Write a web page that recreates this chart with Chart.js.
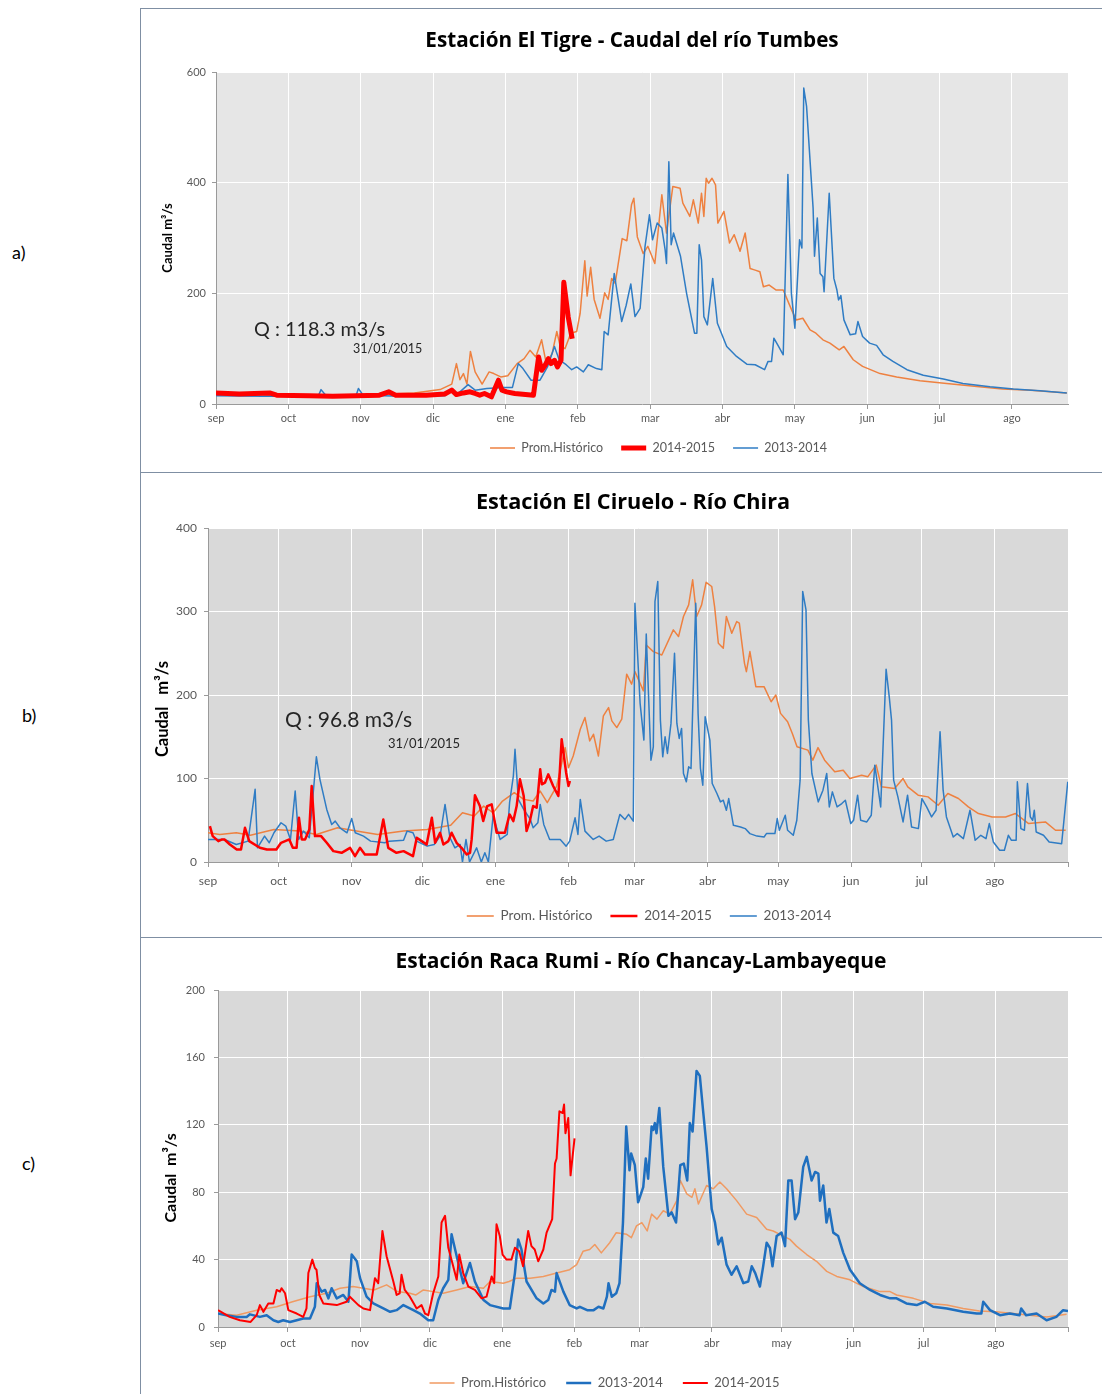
<!DOCTYPE html>
<html lang="es">
<head>
<meta charset="utf-8">
<title>Caudales</title>
<script src="https://cdn.jsdelivr.net/npm/chart.js@4.4.1/dist/chart.umd.min.js"></script>
<style>
  body { margin: 0; background: #fff; }
  #hoja { position: relative; width: 1102px; height: 1394px; overflow: hidden; font-family: Lato, "Open Sans", sans-serif; }
  .linea { position: absolute; background: #7f8fa3; }
  .letra { position: absolute; font-size: 18px; line-height: 18px; color: #000; }
  canvas { position: absolute; left: 141px; }
</style>
</head>
<body>
<div id="hoja">
  <div class="linea" style="left:140px;top:8px;width:962px;height:1px"></div>
  <div class="linea" style="left:140px;top:8px;width:1px;height:1386px"></div>
  <div class="linea" style="left:140px;top:472px;width:962px;height:1px"></div>
  <div class="linea" style="left:140px;top:937px;width:962px;height:1px"></div>
  <div class="letra" style="left:12px;top:243px">a)</div>
  <div class="letra" style="left:22px;top:706px">b)</div>
  <div class="letra" style="left:22px;top:1154px">c)</div>
  <canvas id="tigre" width="961" height="463" style="top:9px"></canvas>
  <canvas id="ciruelo" width="961" height="464" style="top:473px"></canvas>
  <canvas id="raca" width="961" height="462" style="top:938px"></canvas>
</div>
<script>
// dias contados desde el 1 de setiembre, caudal en m3/s
const meses = ['sep', 'oct', 'nov', 'dic', 'ene', 'feb', 'mar', 'abr', 'may', 'jun', 'jul', 'ago'];
const marcasTigre = [0, 31, 62, 93, 124, 155, 186, 217, 248, 279, 310, 341];
const marcasMes = [0, 30, 61, 91, 122, 153, 181, 212, 242, 273, 303, 334, 365];

// ---- Estacion El Tigre ----
const tigreHist = [[0,20],[12,18],[25,16],[40,15],[55,16],[70,17],[85,20],[96,26],[101,36],[103,73],[104.5,44],[106,55],[107.5,36],[109,95],[111,58],[114,36],[117,58],[119,55],[122,49],[125,51],[129,73],[132,82],[134.5,97],[137,85],[139.5,116],[141.5,73],[144,91],[146,131],[147.5,104],[149.5,100],[152,128],[154.5,131],[156,164],[158,259],[159,195],[160.5,247],[162,189],[164.5,155],[166.5,201],[168,189],[169.5,227],[171,218],[174,299],[176,295],[178,360],[179,372],[180.5,302],[183,272],[185,285],[188,254],[191,378],[193,309],[195.7,393],[198.8,390],[200,363],[203,339],[204.5,369],[206.6,327],[208,381],[209,339],[210,408],[211,399],[212.5,408],[214,396],[215,327],[217.6,348],[220,291],[222,306],[224.5,276],[226.7,309],[228.8,245],[231,242],[233,239],[234.5,212],[237,215],[240,206],[243,206],[246,176],[248.5,152],[251.4,155],[254.5,134],[257,128],[260,116],[263,110],[267,98],[269,104],[273,80],[277,68],[284.5,55],[291.6,49],[301.6,42],[313,37],[327,31],[337,27],[349,25],[364.5,20]];
const tigre1415 = [[0,20],[10,18],[23,20],[26,16],[40,15],[50,14],[60,15],[70,16],[74,22],[77,16],[90,16],[98,18],[101,25],[103,17],[106,20],[108.8,22],[111,19],[113,16],[115,19],[118,13],[121,43],[122.5,25],[124.5,22],[128,19],[136,16],[138.2,85],[139.5,61],[141,70],[142.4,82],[143.5,73],[145,79],[146.3,67],[147.8,79],[149,220],[150.9,157],[152.6,118]];
const tigre1314 = [[0,15],[20,14],[40,14],[44,16],[45,26],[47,16],[60,15],[61,28],[63,16],[80,14],[98,15],[100,22],[104,20],[108,35],[111,25],[116,28],[123,30],[127,30],[129.5,73],[131.5,64],[135,43],[138.8,43],[142,67],[145,104],[147,80],[150,71],[152.4,62],[154.5,67],[157.4,58],[159.5,71],[163,64],[165.3,62],[166.3,131],[168,125],[170.6,236],[173.8,149],[175.7,178],[177.7,217],[179.5,158],[181.7,173],[183.8,285],[185.7,342],[187,297],[189,327],[191,318],[192.4,279],[193,254],[194,438],[195,288],[196,309],[199,267],[201.6,200],[205,128],[206,128],[207,288],[208,260],[209,158],[210.5,143],[212.8,227],[214.8,146],[218.8,104],[223,86],[227.4,72],[231,71],[235,62],[236.5,77],[238,77],[239,119],[241,104],[243,89],[245,415],[246.5,200],[248,137],[250,297],[251,282],[251.8,571],[253,538],[255.8,354],[256.4,267],[257.6,336],[258.8,236],[260,230],[260.5,203],[262.7,381],[264.7,227],[266,206],[266.7,188],[267.7,196],[269,152],[271.7,125],[274,127],[275,149],[277,122],[280,110],[283,106],[285.8,89],[290,77],[296,62],[303,52],[311.6,45],[320,37],[331.6,31],[341.6,27],[353,24],[364.5,20]];

// ---- Estacion El Ciruelo ----
const ciruHist = [[0,35],[5,33],[12,35],[18,32],[28,39],[39,37],[46,33],[55,41],[63,37],[72,33],[83,37],[93,39],[103,44],[108,59],[113,55],[117,67],[121,59],[125,73],[130,83],[134,75],[138,73],[141,85],[144,71],[148,91],[151.6,137],[153,113],[155,127],[158,159],[160,173],[162,145],[163.6,153],[165.7,127],[167.8,175],[170,185],[171.4,169],[173.5,161],[175.6,171],[177.7,225],[179.8,213],[181.2,228],[184.8,205],[186,260],[189,252],[192.6,248],[197.5,278],[199.7,270],[201.8,294],[204,308],[205.7,338],[207.4,294],[209.5,308],[211.4,335],[213.8,330],[215,306],[216.6,262],[218.7,256],[220,294],[222.3,274],[224.4,288],[225.5,286],[227.7,238],[228.5,228],[230,252],[232.5,210],[236,210],[239,192],[241,200],[243,178],[246,168],[248,154],[250,138],[254.6,134],[256.7,122],[258.9,137],[261.7,122],[266,108],[269.6,110],[272.4,100],[277.4,104],[280,102],[283.6,116],[285.8,90],[291.4,88],[295,100],[297,90],[301.4,80],[305.6,78],[309.9,68],[314,82],[318.5,76],[322.7,66],[327,58],[332.8,54],[338.5,54],[342.7,58],[348.3,46],[355.4,48],[359.7,38],[364,38]];
const ciru1415 = [[0.8,43],[2,31],[4.4,25],[6,27],[7,27],[9.3,21],[12.2,15],[14,15],[15.7,41],[17.5,25],[22,17],[25,15],[29,15],[31,23],[34.5,27],[36,17],[37.6,17],[38.6,53],[39.8,27],[41.2,27],[43,39],[44,91],[45.4,31],[48,31],[50.4,23],[53.2,13],[56.7,11],[60.3,17],[62.4,7],[64.5,17],[66.6,9],[71.6,9],[74.4,51],[76.5,17],[80,11],[83,13],[87,7],[88.6,29],[90.7,25],[92.8,21],[95,53],[96.4,23],[98.5,35],[99.9,21],[102,25],[103.4,35],[105.5,23],[107.6,17],[109.8,9],[111.2,11],[111.9,27],[113.3,80],[115.4,67],[116.8,49],[118.5,67],[120.4,69],[122.5,35],[126,35],[128,57],[129.6,49],[131,67],[132.4,99],[134,79],[135.2,37],[136.6,49],[138,67],[139.5,65],[141,111],[141.7,93],[143,95],[144.4,105],[146.5,91],[148.7,79],[150.1,147],[152,107],[153,91],[153.6,97]];
const ciru1314 = [[0,27],[7,27],[12,21],[17,25],[20,87],[21,17],[24,31],[26,23],[28,35],[31,47],[33,43],[35,27],[37,85],[38.5,27],[40.5,37],[43,29],[46,126],[47.5,99],[50.4,63],[52.5,45],[54,49],[56,41],[59,35],[61,52],[62.5,35],[66,31],[69,25],[75,23],[77,25],[83,26],[84.5,37],[87,35],[88.5,25],[93,19],[96,21],[98.5,31],[100.6,69],[102.7,29],[104.8,17],[107,21],[108,0],[109.5,27],[111,0],[114,17],[116,0],[117.5,11],[119,0],[121,55],[124,27],[127,33],[128,71],[129.6,103],[130.3,135],[131.7,75],[134,63],[136.8,51],[138,41],[140,47],[141,69],[142.5,45],[145,27],[149.5,27],[152,19],[153.5,25],[155.8,53],[157,33],[158,75],[160,37],[163.5,27],[166,31],[169,25],[172,27],[174.8,57],[177,51],[178.5,57],[180.5,49],[181.2,310],[183.4,190],[185,146],[186,273],[188,122],[189,138],[189.7,312],[190.9,336],[192,170],[193,126],[194,150],[195,130],[196.5,166],[198,250],[199,166],[200,148],[201,160],[201.8,106],[203,96],[204,114],[205,112],[207,310],[208,178],[209,112],[210,92],[211,174],[213,146],[214,94],[216,82],[217.5,72],[218.7,74],[220,62],[221,76],[223,44],[226,42],[228,40],[230,34],[233,31],[236,30],[237,34],[240.6,34],[241.6,52],[242.5,38],[245,56],[246,38],[248.4,32],[249.9,50],[251.3,98],[252.4,324],[253.8,302],[254.8,170],[256.3,106],[259,72],[261,86],[262.6,106],[263.7,66],[265,84],[267,66],[269,70],[270.5,74],[272.8,46],[274,50],[275.7,80],[277,50],[279.6,48],[281.5,56],[283,116],[285.5,66],[287.8,231],[289.2,196],[290.1,170],[291,98],[292.8,78],[295,48],[296.9,80],[298.6,42],[301.5,40],[303,76],[305,66],[307.1,54],[309,62],[310.7,156],[312,86],[313.4,54],[316.3,30],[318,34],[320.6,28],[323.4,62],[325.6,26],[328,32],[330.2,28],[331.6,46],[333.3,24],[336,14],[338,14],[339.7,32],[341,26],[343,26],[343.5,96],[345,40],[346.5,38],[347.8,94],[349,54],[350,50],[350.7,62],[351.5,36],[354.6,32],[357,24],[362.3,22],[364.9,96]];

// ---- Estacion Raca Rumi ----
const racaHist = [[0,8],[8,7],[16.6,10],[25.2,12],[32,15],[39.5,18],[46.6,20],[52.4,23],[58,24],[62.4,23],[67,22],[72.4,25],[77,21],[82.4,20],[85,19],[88.2,22],[92.4,21],[96.7,20],[102.5,22],[108.2,24],[114,23],[116.8,27],[122.5,26],[125,27],[128.2,29],[134,29],[139.7,30],[145.4,32],[151,34],[154,37],[156.8,45],[159.6,46],[161.8,49],[164.6,44],[168.2,50],[171,56],[175.5,55],[177.5,53],[179.7,60],[182,62],[184.3,57],[186.2,67],[188.5,64],[191.2,69],[194,67],[197,75],[198.5,87],[201.3,79],[203.5,77],[204.8,82],[206.3,73],[209.8,84],[212.7,82],[215.5,86],[218.4,82],[222.7,75],[227,67],[231.3,65],[235.6,58],[238.4,57],[241.3,55],[245.6,52],[248.4,48],[252.8,43],[257,39],[261.4,33],[265.7,30],[271.4,28],[277.1,24],[284.3,21],[288.6,21],[291.4,19],[298.6,17],[305.8,14],[313,13],[320,11],[327,9.5],[334,9],[341.5,8],[348.6,7],[355.8,6],[364.4,7.5]];
const raca1314 = [[0,8],[3.6,7],[8,6],[12.3,6],[13.7,7.5],[18,6],[20.9,7],[23.8,4],[25.9,3],[28,4],[30.9,3],[33.8,4],[36.6,5],[39.5,5],[41.6,12],[42.4,26],[44.5,21],[46,22],[47.4,17],[48.8,23],[51,17],[53.8,19],[56,15],[57.4,43],[59.6,39],[61,29],[63.8,18],[66.7,14],[71,11],[73.9,9],[76.7,10],[79.6,13],[83.9,10],[86.7,8],[90.3,4],[92.4,4],[94.6,16],[96.7,23],[98.9,28],[100.3,55],[102.5,42],[105.3,26],[108.2,38],[110.3,27],[114,16],[116.8,13],[122.5,11],[125.3,11],[127.5,32],[128.9,52],[130.3,46],[132.5,27],[136.8,17],[139.7,14],[141.8,16],[143.2,22],[144.7,21],[145.4,32],[148.3,21],[151,13],[154,11],[155.4,12],[158.5,10],[161.3,10],[163.4,12],[165.5,11],[167,18],[167.7,26],[169.1,18],[171,20],[172.4,26],[173.9,62],[175.3,119],[176.7,93],[177.4,103],[179,96],[180.4,74],[182.6,83],[183.7,100],[184.7,88],[186.2,119],[186.9,117],[187.6,121],[188.3,115],[189.5,130],[191.2,95],[193.4,66],[194.8,68],[196.7,62],[198.5,96],[200,97],[201.5,87],[202.6,121],[203.8,116],[205.5,152],[206.9,149],[208.4,127],[209.8,107],[212,70],[213.4,62],[214.8,49],[216.3,53],[218.4,37],[220.5,31],[222.7,36],[225.6,26],[227.7,27],[229.2,36],[230.7,32],[232.7,24],[234.1,36],[235.6,50],[237,47],[238.1,36],[239.9,54],[242,56],[243.5,48],[244.9,87],[246.3,87],[247.8,64],[249.2,68],[251.3,95],[252.8,101],[254.9,87],[256.4,92],[257.8,91],[258.5,75],[259.9,84],[261.3,62],[262.5,70],[264.2,56],[266.3,54],[268.5,44],[271.4,34],[275.6,26],[280,22],[284.3,19],[288.6,17],[291.4,17],[295.6,14],[300,13],[303.5,15],[307.1,12],[313,11],[320,9],[325.8,8],[327.8,8],[328.6,15],[331.5,10],[335.8,7],[340,8],[344.2,7],[344.9,11],[347,7],[351.5,8],[355.8,4],[360,6],[362.9,10],[365,9.5]];
const raca1415 = [[0,10],[5,6],[9.4,4],[14,3],[16.6,7],[18,13],[19.5,9],[21.6,14],[23.8,14],[25.2,22],[26.6,21],[27.3,23],[28.8,20],[30.2,10],[33.8,8],[36.6,6],[38,11],[38.8,32],[40.5,40],[41.6,35],[42.3,34],[43.5,19],[45.2,14],[51,13],[55.2,15],[56.6,18],[60.3,13],[62.4,11],[65.3,10],[67.4,29],[68.8,26],[70.6,57],[72.4,42],[75.3,27],[76.7,19],[78,20],[78.8,31],[80.2,22],[82.4,18],[85.3,11],[87.4,13],[88.9,8],[90.3,7],[92.4,20],[94.6,30],[96,62],[97.5,66],[98.9,47],[101,36],[102.5,28],[103.6,43],[105.3,32],[107.5,24],[110.3,22],[113.2,17],[115.3,18],[117.5,30],[118.6,26],[119.6,61],[121,54],[122.2,43],[123.9,40],[126,40],[127.5,47],[129.3,45],[131,36],[133.2,57],[134.6,48],[136,46],[137.5,39],[139.7,46],[141.1,56],[143.5,64],[144.7,97],[145.4,100],[146.6,128],[148,127],[148.6,132],[149.2,115],[150.4,124],[151.4,90],[153.1,112]];

const naranja = '#EE8140';
const azul = '#2F7CC4';
const rojo = '#FF0000';
const gris = '#9a9a9a';
const textoEje = '#595959';

Chart.defaults.font.family = 'Lato, "Open Sans", sans-serif';
Chart.defaults.animation = false;

const puntos = arr => arr.map(([x, y]) => ({x: x, y: y}));

// fondo gris del area de trazado
const fondoPlugin = {
  id: 'fondo',
  beforeDraw(chart, args, opts) {
    const a = chart.chartArea;
    chart.ctx.save();
    chart.ctx.fillStyle = opts.color;
    chart.ctx.fillRect(a.left, a.top, a.right - a.left, a.bottom - a.top);
    chart.ctx.restore();
  }
};

// titulo y leyenda de Excel no estan centrados en el lienzo
const desplazarPlugin = {
  id: 'desplazar',
  afterLayout(chart, args, opts) {
    if (chart.titleBlock) { chart.titleBlock.left += opts.titulo; chart.titleBlock.right += opts.titulo; }
    if (chart.legend) { chart.legend.left += opts.leyenda; chart.legend.right += opts.leyenda; }
  }
};

// textos del caudal al 31/01/2015
const notasPlugin = {
  id: 'notas',
  afterDatasetsDraw(chart, args, opts) {
    const ctx = chart.ctx;
    const x = chart.scales.x, y = chart.scales.y;
    opts.items.forEach(n => {
      ctx.save();
      ctx.font = n.size + 'px Lato, "Open Sans", sans-serif';
      ctx.fillStyle = '#262626';
      ctx.textBaseline = 'middle';
      ctx.fillText(n.text, x.getPixelForValue(n.dia), y.getPixelForValue(n.valor));
      ctx.restore();
    });
  }
};

function serie(label, datos, color, ancho, orden) {
  return {
    label: label, data: puntos(datos), borderColor: color, backgroundColor: color,
    borderWidth: ancho, pointRadius: 0, tension: 0, order: orden,
    borderJoinStyle: 'round', pointStyle: 'line'
  };
}

function dibujarPanel(id, p) {
  new Chart(document.getElementById(id), {
    type: 'line',
    data: { datasets: p.series },
    options: {
      responsive: false,
      layout: { padding: { left: 0, right: 34, top: 0, bottom: p.abajo } },
      plugins: {
        title: {
          display: true, text: p.titulo, color: '#000',
          font: { family: '"Open Sans", Lato, sans-serif', size: p.tamTitulo, weight: 'bold' },
          padding: { top: p.titSup, bottom: p.titInf }
        },
        legend: {
          position: 'bottom',
          labels: {
            usePointStyle: true, pointStyleWidth: p.largoLinea, color: textoEje,
            font: { size: p.tamLeyenda }, padding: p.padLeyenda,
            sort: (a, b) => a.datasetIndex - b.datasetIndex
          }
        },
        tooltip: { enabled: false },
        fondo: { color: p.fondo },
        desplazar: { titulo: p.dxTitulo, leyenda: p.dxLeyenda },
        notas: { items: p.notas }
      },
      scales: {
        x: {
          type: 'linear', min: 0, max: 365,
          afterBuildTicks: ax => { ax.ticks = p.marcas.map(v => ({ value: v })); },
          afterFit: ax => { ax.height = p.altoX; },
          ticks: {
            callback: (v, i) => meses[i] || '', autoSkip: false, maxRotation: 0,
            padding: p.padX, color: textoEje, font: { size: p.tamTicks }
          },
          grid: { color: '#ffffff', tickColor: gris, tickLength: 5 },
          border: { color: gris }
        },
        y: {
          min: 0, max: p.maxY,
          afterFit: ax => { ax.width = p.anchoY; },
          ticks: { stepSize: p.pasoY, padding: p.padY, color: textoEje, font: { size: p.tamTicks } },
          grid: { color: '#ffffff', tickColor: gris, tickLength: 4 },
          border: { color: gris },
          title: {
            display: true, text: p.tituloY, color: '#000',
            font: { size: p.tamTituloY, weight: 'bold' },
            padding: { top: p.padTituloY, bottom: 0 }
          }
        }
      }
    },
    plugins: [fondoPlugin, desplazarPlugin, notasPlugin]
  });
}

// los espacios finales bajan el titulo del eje como en el original
const relleno = n => '\u00A0'.repeat(n);

dibujarPanel('tigre', {
  titulo: 'Estación El Tigre - Caudal del río Tumbes', tamTitulo: 20.7, titSup: 19.6, titInf: 18.6,
  series: [
    serie('Prom.Histórico', tigreHist, naranja, 1.5, 2),
    serie('2014-2015', tigre1415, rojo, 5, 0),
    serie('2013-2014', tigre1314, azul, 1.5, 1)
  ],
  marcas: marcasTigre, maxY: 600, pasoY: 200, fondo: '#E6E6E6',
  anchoY: 75, altoX: 19.75, abajo: 7.75, padX: 3, padY: 6, tamTicks: 11,
  tituloY: 'Caudal m³/s', tamTituloY: 13, padTituloY: 19,
  tamLeyenda: 12.5, padLeyenda: 18, largoLinea: 25, dxTitulo: 27.5, dxLeyenda: 54,
  notas: [
    { text: 'Q : 118.3 m3/s', dia: 16.3, valor: 134, size: 19.8 },
    { text: '31/01/2015', dia: 58.7, valor: 99, size: 12.5 }
  ]
});

dibujarPanel('ciruelo', {
  titulo: 'Estación El Ciruelo - Río Chira', tamTitulo: 21.7, titSup: 17, titInf: 12,
  series: [
    serie('Prom. Histórico', ciruHist, naranja, 1.5, 2),
    serie('2014-2015', ciru1415, rojo, 2.5, 0),
    serie('2013-2014', ciru1314, azul, 1.5, 1)
  ],
  marcas: marcasMes, maxY: 400, pasoY: 100, fondo: '#D9D9D9',
  anchoY: 67, altoX: 29.25, abajo: 4.25, padX: 7, padY: 7, tamTicks: 12,
  tituloY: 'Caudal   m³/s' + relleno(7), tamTituloY: 16.5, padTituloY: 12,
  tamLeyenda: 13.5, padLeyenda: 18, largoLinea: 27, dxTitulo: 28.5, dxLeyenda: 44.5,
  notas: [
    { text: 'Q : 96.8 m3/s', dia: 32.7, valor: 170, size: 21 },
    { text: '31/01/2015', dia: 76.4, valor: 141, size: 13 }
  ]
});

dibujarPanel('raca', {
  titulo: 'Estación Raca Rumi - Río Chancay-Lambayeque', tamTitulo: 21, titSup: 11.4, titInf: 15.4,
  series: [
    serie('Prom.Histórico', racaHist, '#F09A62', 1.5, 2),
    serie('2013-2014', raca1314, '#1F6FBF', 2.5, 1),
    serie('2014-2015', raca1415, rojo, 2, 0)
  ],
  marcas: marcasMes, maxY: 200, pasoY: 40, fondo: '#D9D9D9',
  anchoY: 77, altoX: 29.5, abajo: 0.5, padX: 5, padY: 9, tamTicks: 11,
  tituloY: 'Caudal  m³/s' + relleno(10), tamTituloY: 16, padTituloY: 20,
  tamLeyenda: 13, padLeyenda: 20, largoLinea: 25, dxTitulo: 36.5, dxLeyenda: 0,
  notas: []
});
</script>
</body>
</html>
